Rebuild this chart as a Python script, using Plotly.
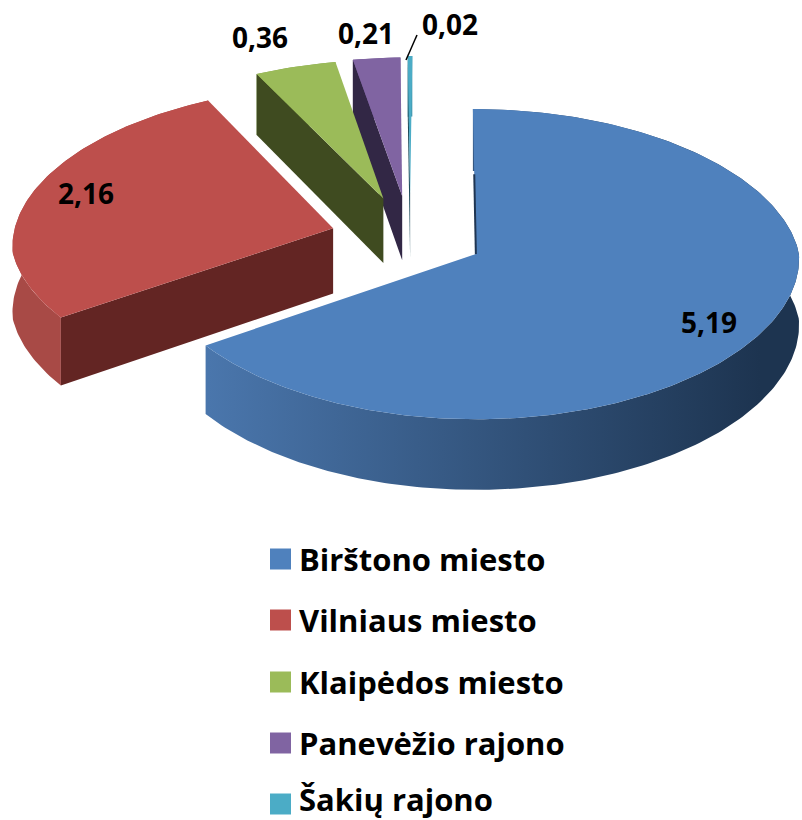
import numpy as np
import plotly.graph_objects as go

categories = ["Birštono miesto", "Vilniaus miesto", "Klaipėdos miesto", "Panevėžio rajono", "Šakių rajono"]
values = [5.19, 2.16, 0.36, 0.21, 0.02]
value_labels = ["5,19", "2,16", "0,36", "0,21", "0,02"]
explode = [0.231, 0.25, 0.275, 0.28, 0.29]
top_colors = ["#4F81BD", "#BD4F4C", "#9BBB59", "#8064A2", "#4BACC6"]
wall_colors = ["#1F3552", "#632523", "#3F4B20", "#322745", "#1D4C5A"]
outer_left = ["#4A76AC", "#A84A46", "#8AA650", "#6F5790", "#3F93AA"]
outer_right = ["#1D3450", "#632523", "#3F4B20", "#322745", "#1D4C5A"]
label_pos = [(709, 322), (86, 193), (260, 37), (366, 33), (450, 24)]
legend_y = [559, 620, 682, 743, 799]

# Projection of the tilted pie plane on to the page (page pixels)
OX, OY, A, B, KY, DEPTH = 476.0, 253.0, 323.0, 154.4, 0.0645, 66.0
KX_BACK, KX_FRONT, SHEAR = 0.09, 0.03, 3.0
CU, CV = -0.205, -0.10
FONT = "Open Sans"


def project(u, v, h=0.0):
    v = np.asarray(v, dtype=float)
    kx = np.where(v < 0, KX_BACK, KX_FRONT)
    sx = 1.0 / (1.0 - kx * v)
    sy = 1.0 / (1.0 - KY * v)
    return OX + A * u * sx + SHEAR * np.minimum(v, 0), OY + B * v * sy + h * sy


def poly(x, y, color=None, gradient=None):
    kw = dict(x=list(x) + [x[0]], y=list(y) + [y[0]], mode="lines", line=dict(width=0, color="rgba(0,0,0,0)"),
              fill="toself", hoverinfo="skip", showlegend=False)
    if gradient:
        kw["fillgradient"] = dict(type="horizontal", colorscale=[[0, gradient[0]], [1, gradient[1]]],
                                  start=gradient[2], stop=gradient[3])
    else:
        kw["fillcolor"] = color
    return go.Scatter(**kw)


total = sum(values)
angles = np.cumsum([0] + values) / total * 2 * np.pi
fig = go.Figure()

for i in range(len(values) - 1, -1, -1):
    a0, a1 = angles[i], angles[i + 1]
    mid = (a0 + a1) / 2
    cu = CU + explode[i] * np.sin(mid)
    cv = CV - explode[i] * np.cos(mid)
    t = np.linspace(a0, a1, max(8, int((a1 - a0) * 60)))
    u = cu + np.sin(t)
    v = cv - np.cos(t)
    tx, ty = project(u, v)
    bx, by = project(u, v, DEPTH)
    ax, ay = project(cu, cv)
    adx, ady = project(cu, cv, DEPTH)
    ax, ay, adx, ady = float(ax), float(ay), float(adx), float(ady)

    # rim first
    rim_x = np.r_[tx, bx[::-1]]
    rim_y = np.r_[ty, by[::-1]]
    if i == 0:
        fig.add_trace(poly(rim_x, rim_y, gradient=(outer_left[i], outer_right[i], 208, 760)))
    else:
        fig.add_trace(poly(rim_x, rim_y, outer_left[i]))
    # only the cut face that looks towards the viewer
    if np.sin(a0) < 0:
        fig.add_trace(poly([ax, tx[0], bx[0], adx], [ay, ty[0], by[0], ady], wall_colors[i]))
    if np.sin(a1) > 0:
        fig.add_trace(poly([ax, tx[-1], bx[-1], adx], [ay, ty[-1], by[-1], ady], wall_colors[i]))
    # top face
    fig.add_trace(poly(np.r_[ax, tx], np.r_[ay, ty], top_colors[i]))
    # thin dark edge on the big slice's straight side that faces the gap
    if i == 0:
        f = 0.55
        fig.add_trace(go.Scatter(x=[ax, ax + (tx[0] - ax) * f], y=[ay, ay + (ty[0] - ay) * f], mode="lines",
                                 line=dict(color=wall_colors[0], width=2), hoverinfo="skip", showlegend=False))

# leader line of the smallest slice
fig.add_trace(go.Scatter(x=[406, 417], y=[60, 35], mode="lines", line=dict(color="black", width=1.5),
                         hoverinfo="skip", showlegend=False))

# data labels
for (lx, ly), txt in zip(label_pos, value_labels):
    fig.add_annotation(x=lx, y=ly, text=f"<b>{txt}</b>", showarrow=False,
                       font=dict(family=FONT, size=28, color="black"))

# legend
fig.add_trace(go.Scatter(x=[280.5] * 5, y=[559, 620, 682, 743, 804], mode="markers",
                         marker=dict(symbol="square", size=21, color=top_colors, line=dict(width=0)),
                         hoverinfo="skip", showlegend=False))
for name, ly in zip(categories, legend_y):
    fig.add_annotation(x=297, y=ly, text=f"<b>{name}</b>", showarrow=False, xanchor="left",
                       font=dict(family=FONT, size=31, color="black"))

fig.update_layout(
    width=802, height=820, margin=dict(l=0, r=0, t=0, b=0),
    paper_bgcolor="white", plot_bgcolor="white", showlegend=False,
    xaxis=dict(range=[0, 802], visible=False, fixedrange=True),
    yaxis=dict(range=[820, 0], visible=False, fixedrange=True),
)
fig.write_html("out.html", config=dict(displayModeBar=False), post_script="document.body.style.margin='0';")
